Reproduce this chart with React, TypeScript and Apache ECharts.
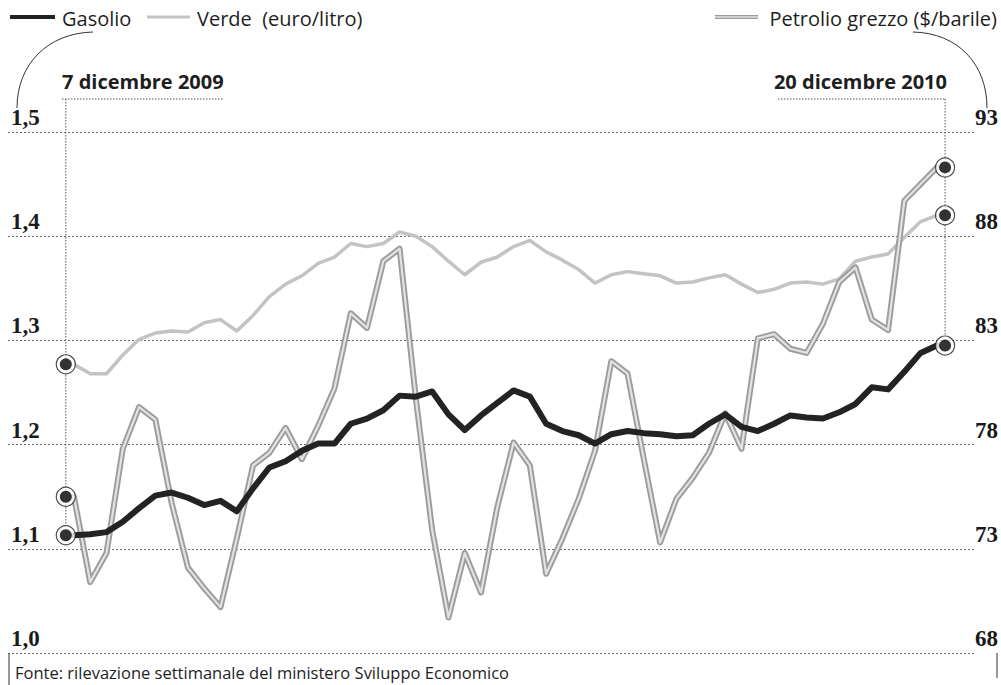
import React, { useEffect, useRef } from 'react';
import * as echarts from 'echarts';

// Weekly readings, 7 Dec 2009 -> 20 Dec 2010
const gasolio = [
  1.113, 1.114, 1.116, 1.126, 1.139, 1.151, 1.154, 1.149, 1.142, 1.146,
  1.136, 1.158, 1.178, 1.184, 1.194, 1.201, 1.201, 1.220, 1.225, 1.233,
  1.247, 1.246, 1.251, 1.229, 1.214, 1.228, 1.240, 1.252, 1.246, 1.220,
  1.213, 1.209, 1.201, 1.210, 1.213, 1.211, 1.210, 1.208, 1.209, 1.220,
  1.229, 1.217, 1.213, 1.220, 1.228, 1.226, 1.225, 1.231, 1.239, 1.255,
  1.253, 1.270, 1.288, 1.295,
];
const verde = [
  1.277, 1.268, 1.268, 1.286, 1.301, 1.307, 1.309, 1.308, 1.317, 1.320,
  1.309, 1.324, 1.342, 1.354, 1.362, 1.374, 1.380, 1.393, 1.390, 1.393,
  1.404, 1.400, 1.390, 1.376, 1.363, 1.375, 1.380, 1.390, 1.396, 1.385,
  1.377, 1.368, 1.355, 1.363, 1.366, 1.364, 1.362, 1.355, 1.356, 1.360,
  1.363, 1.354, 1.346, 1.349, 1.355, 1.356, 1.354, 1.359, 1.376, 1.380,
  1.383, 1.399, 1.414, 1.420,
];
const petrolio = [
  75.5, 71.4, 72.8, 77.8, 79.8, 79.2, 75.2, 72.1, 71.1, 70.2,
  73.5, 77.0, 77.6, 78.8, 77.3, 78.9, 80.7, 84.3, 83.6, 86.8,
  87.4, 80.2, 73.9, 69.7, 72.8, 70.9, 75.0, 78.1, 77.0, 71.8,
  73.5, 75.4, 77.7, 82.0, 81.4, 77.3, 73.3, 75.4, 76.4, 77.6,
  79.5, 77.8, 83.1, 83.3, 82.6, 82.4, 83.8, 85.8, 86.5, 84.0,
  83.5, 89.7, 90.5, 91.3,
];

const leftAxis = { min: 1.0, max: 1.5, step: 0.1 };
const rightAxis = { min: 68, max: 93, step: 5 };

const legendGasolio = 'Gasolio';
const legendVerde = 'Verde  (euro/litro)';
const legendPetrolio = 'Petrolio grezzo ($/barile)';
const startDate = '7 dicembre 2009';
const endDate = '20 dicembre 2010';
const sourceText = 'Fonte: rilevazione settimanale del ministero Sviluppo Economico';

const C_GAS = '#232323';
const C_VERDE = '#c3c3c3';
const C_PETRO_OUT = '#9c9c9c';
const C_PETRO_IN = '#e2e2e2';

const pairs = (arr: number[]) => arr.map((v, i) => [i, v]);

export default function App() {
  const ref = useRef<HTMLDivElement>(null);

  useEffect(() => {
    const chart = echarts.init(ref.current!, null, { renderer: 'svg' });
    const last = gasolio.length - 1;
    const xStart = -0.5;
    const xEnd = last + 0.5;

    const labelStyle = {
      fontFamily: 'Liberation Serif',
      fontSize: 23,
      fontWeight: 'bold',
      color: '#1a1a1a',
    };

    const line = (data: number[], yAxisIndex: number, color: string, width: number, z: number) => ({
      type: 'line',
      yAxisIndex,
      data: pairs(data),
      showSymbol: false,
      symbol: 'none',
      silent: true,
      z,
      lineStyle: { color, width, join: 'round', cap: 'round' },
    });

    const option: any = {
      animation: false,
      backgroundColor: '#ffffff',
      grid: { left: 8, right: 24, top: 132, bottom: 32, containLabel: false },
      xAxis: { type: 'value', min: -4.05, max: 55.4, show: false },
      yAxis: [
        {
          type: 'value',
          min: leftAxis.min,
          max: leftAxis.max,
          interval: leftAxis.step,
          position: 'left',
          axisLine: { show: false },
          axisTick: { show: false },
          axisLabel: {
            ...labelStyle,
            inside: true,
            align: 'left',
            verticalAlign: 'bottom',
            margin: 3,
            padding: [0, 0, 3, 0],
            showMinLabel: true,
            showMaxLabel: true,
            formatter: (v: number) => v.toFixed(1).replace('.', ','),
          },
          splitLine: { show: true, lineStyle: { color: '#6a6a6a', width: 1, type: [2, 2] } },
        },
        {
          type: 'value',
          min: rightAxis.min,
          max: rightAxis.max,
          interval: rightAxis.step,
          position: 'right',
          axisLine: { show: false },
          axisTick: { show: false },
          axisLabel: {
            ...labelStyle,
            inside: false,
            align: 'right',
            verticalAlign: 'bottom',
            margin: 22,
            padding: [0, 0, 3, 0],
            showMinLabel: true,
            showMaxLabel: true,
          },
          splitLine: { show: false },
        },
      ],
      series: [
        line(verde, 0, C_VERDE, 3.5, 2),
        line(petrolio, 1, C_PETRO_OUT, 6, 3),
        line(petrolio, 1, C_PETRO_IN, 2.2, 4),
        line(gasolio, 0, C_GAS, 6, 5),
        {
          type: 'scatter', yAxisIndex: 0, symbol: 'circle', symbolSize: 19, z: 8, silent: true,
          itemStyle: { color: '#ffffff', borderColor: '#222', borderWidth: 1.2 },
          data: [[xStart, gasolio[0]], [xEnd, gasolio[last]], [xStart, verde[0]], [xEnd, verde[last]]],
        },
        {
          type: 'scatter', yAxisIndex: 0, symbol: 'circle', symbolSize: 12, z: 9, silent: true,
          itemStyle: { color: '#000' },
          data: [[xStart, gasolio[0]], [xEnd, gasolio[last]], [xStart, verde[0]], [xEnd, verde[last]]],
        },
        {
          type: 'scatter', yAxisIndex: 1, symbol: 'circle', symbolSize: 19, z: 8, silent: true,
          itemStyle: { color: '#ffffff', borderColor: '#222', borderWidth: 1.2 },
          data: [[xStart, petrolio[0]], [xEnd, petrolio[last]]],
        },
        {
          type: 'scatter', yAxisIndex: 1, symbol: 'circle', symbolSize: 12, z: 9, silent: true,
          itemStyle: { color: '#000' },
          data: [[xStart, petrolio[0]], [xEnd, petrolio[last]]],
        },
      ],
    };
    chart.setOption(option);

    const pL = chart.convertToPixel({ xAxisIndex: 0, yAxisIndex: 0 }, [xStart, gasolio[0]]) as number[];
    const pR = chart.convertToPixel({ xAxisIndex: 0, yAxisIndex: 0 }, [xEnd, gasolio[last]]) as number[];
    const pBottom = chart.convertToPixel({ xAxisIndex: 0, yAxisIndex: 0 }, [xStart, leftAxis.min]) as number[];

    const txt = (text: string, x: number, y: number, font: string, align: string) => ({
      type: 'text',
      x,
      y,
      silent: true,
      style: {
        text,
        font,
        fill: '#1e1e1e',
        align,
        textAlign: align,
        verticalAlign: 'middle',
        textVerticalAlign: 'middle',
      },
    });
    const seg = (x1: number, y1: number, x2: number, y2: number, stroke: string, lineWidth: number, dash?: number[]) => ({
      type: 'line',
      silent: true,
      shape: { x1, y1, x2, y2 },
      style: { stroke, lineWidth, lineDash: dash || null },
    });

    const legendFont = '20px "Open Sans"';
    const dateFont = 'bold 20px "Open Sans"';
    const underY = 99;
    const bottomY = pBottom[1];

    chart.setOption({
      graphic: [
        // legend
        seg(10, 17, 55, 17, C_GAS, 4),
        txt(legendGasolio, 62, 18, legendFont, 'left'),
        seg(147, 17, 190, 17, C_VERDE, 3),
        txt(legendVerde, 197, 18, legendFont, 'left'),
        seg(715, 17, 758, 17, C_PETRO_OUT, 4),
        seg(715, 17, 758, 17, C_PETRO_IN, 1.5),
        txt(legendPetrolio, 997, 18, legendFont, 'right'),
        // brackets
        {
          type: 'bezierCurve', silent: true,
          shape: { x1: 93, y1: 32, cpx1: 48, cpy1: 33, cpx2: 17, cpy2: 64, x2: 17, y2: 108 },
          style: { stroke: '#333', lineWidth: 1, fill: null },
        },
        {
          type: 'bezierCurve', silent: true,
          shape: { x1: 913, y1: 32, cpx1: 958, cpy1: 33, cpx2: 987, cpy2: 64, x2: 987, y2: 108 },
          style: { stroke: '#333', lineWidth: 1, fill: null },
        },
        // date labels
        txt(startDate, 62, 81, dateFont, 'left'),
        seg(62, underY, 223, underY, '#555', 1, [1.5, 1.5]),
        seg(pL[0], underY, pL[0], pL[1] - 10, '#555', 1, [1.5, 1.5]),
        txt(endDate, 947, 81, dateFont, 'right'),
        seg(778, underY, pR[0], underY, '#555', 1, [1.5, 1.5]),
        seg(pR[0], underY, pR[0], pR[1] - 10, '#555', 1, [1.5, 1.5]),
        // source
        seg(9, bottomY, 9, 685, '#333', 1),
        seg(997, bottomY, 997, 678, '#333', 1),
        txt(sourceText, 15, 672, '16.5px "Open Sans"', 'left'),
      ],
    });

    return () => chart.dispose();
  }, []);

  return (
    <div
      ref={ref}
      style={{ position: 'fixed', left: 0, top: 0, width: 1001, height: 685, background: '#fff' }}
    />
  );
}
